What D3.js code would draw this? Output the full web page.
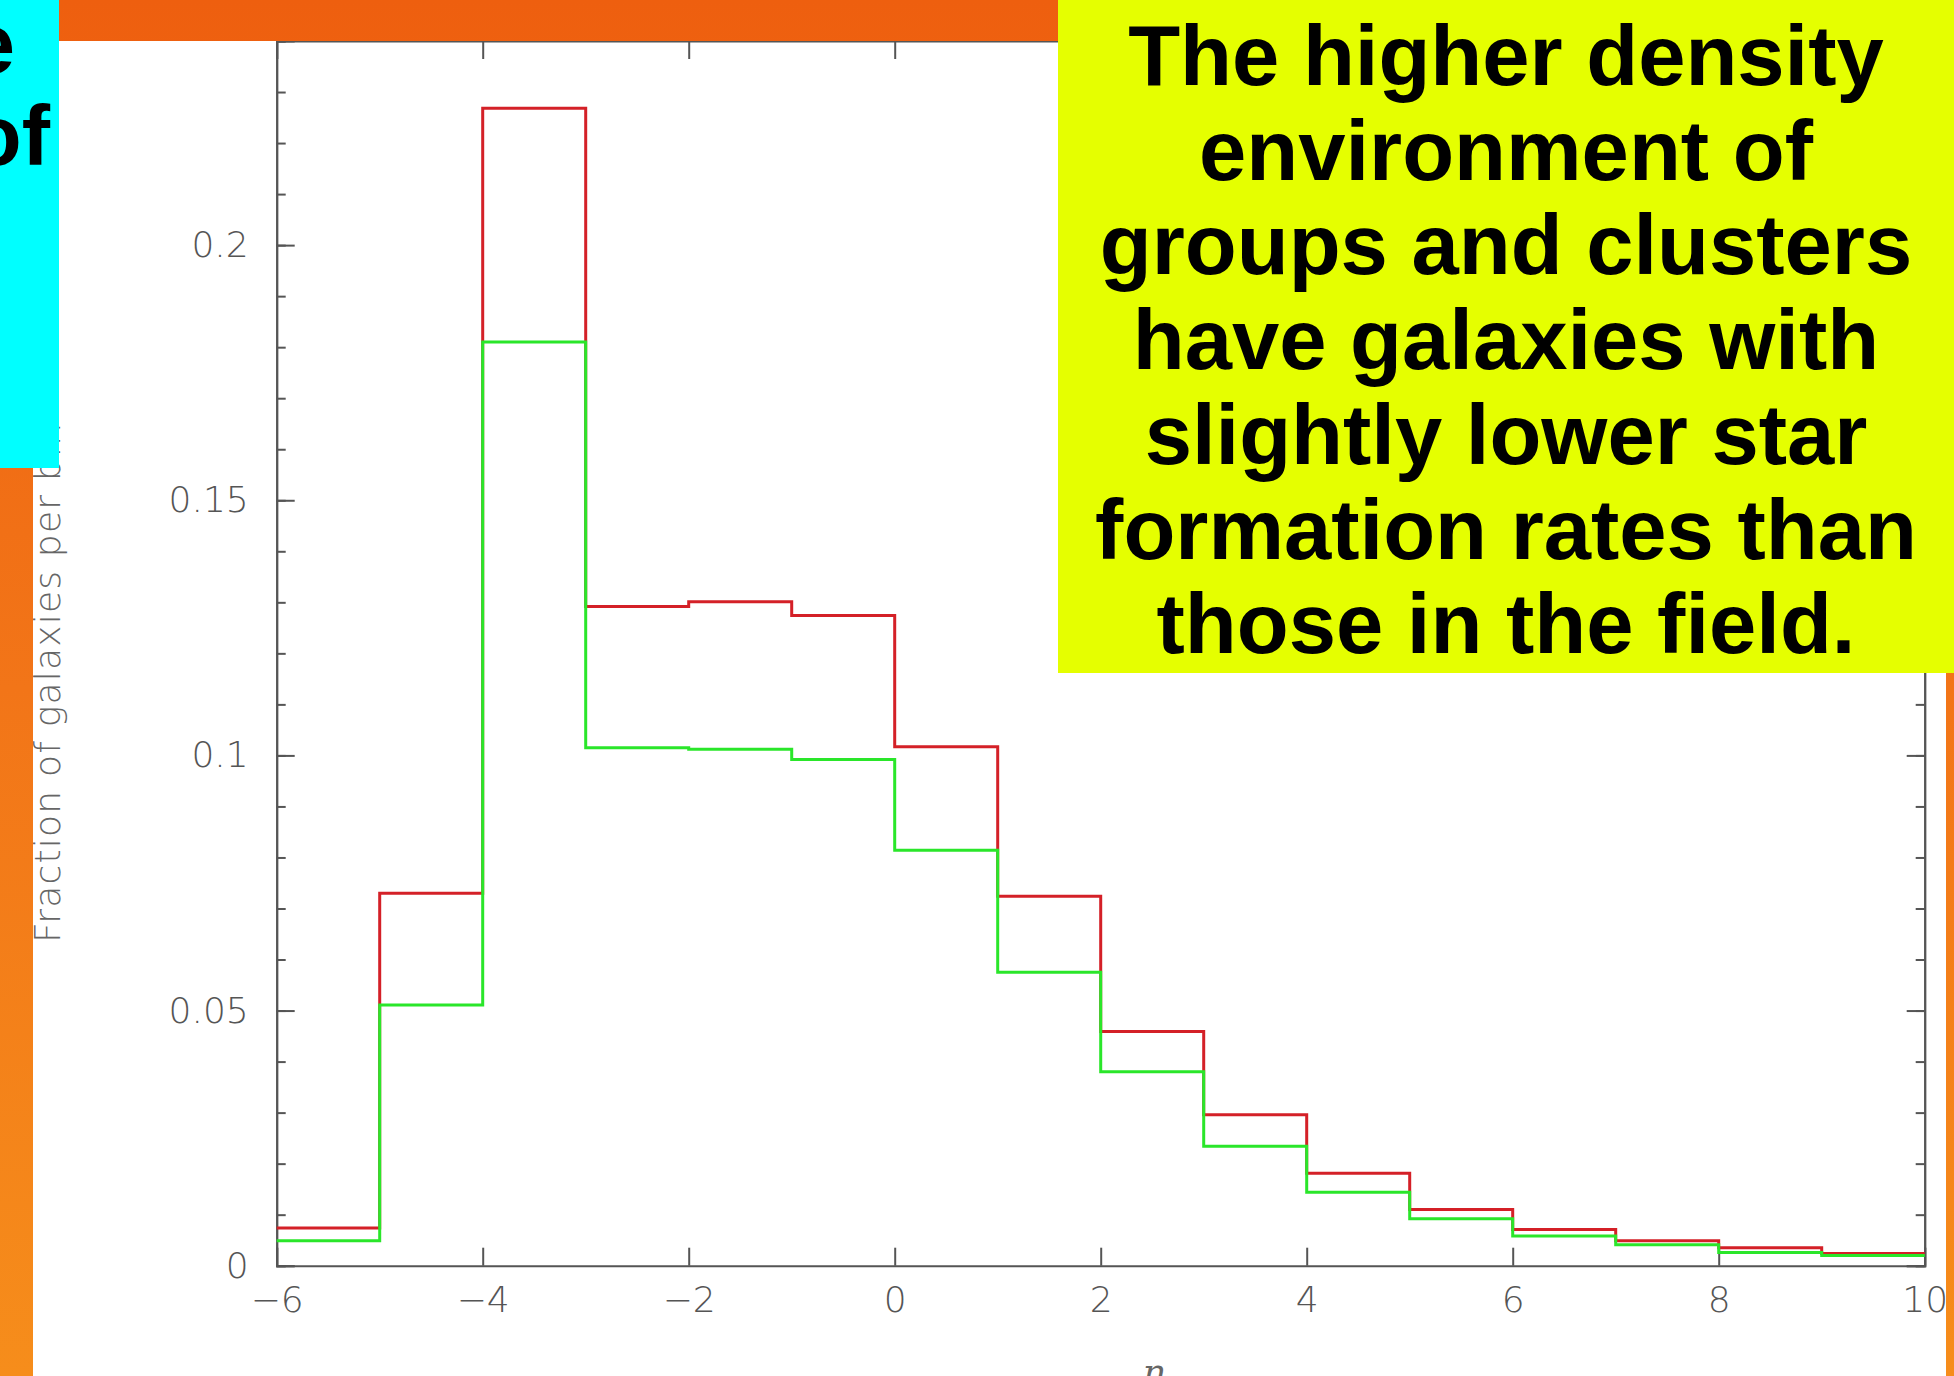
<!DOCTYPE html>
<html>
<head>
<meta charset="utf-8">
<script src="https://cdn.jsdelivr.net/npm/d3@7"></script>
<style>
  html, body { margin: 0; padding: 0; background: #ffffff; }
  svg { display: block; }
</style>
</head>
<body>
<svg id="slide" width="1954" height="1376"></svg>
<script>
// Histogram bins of eta (lower edges, plus the final upper edge)
const binEdges = [-6, -5, -4, -3, -2, -1, 0, 1, 2, 3, 4, 5, 6, 7, 8, 9, 10];

// Fraction of galaxies per bin: field sample (red) and group/cluster sample (green)
const fieldFraction = [0.0074, 0.0730, 0.2268, 0.1292, 0.1301, 0.1274, 0.1017, 0.0724,
                       0.0459, 0.0296, 0.0181, 0.0110, 0.0071, 0.0049, 0.0035, 0.0024];
const groupFraction = [0.0049, 0.0511, 0.1810, 0.1015, 0.1012, 0.0992, 0.0814, 0.0575,
                       0.0380, 0.0234, 0.0144, 0.0092, 0.0058, 0.0041, 0.0026, 0.0020];

// Axis ticks
const xTickValues = [-6, -4, -2, 0, 2, 4, 6, 8, 10];
const xTickLabels = ["\u22126", "\u22124", "\u22122", "0", "2", "4", "6", "8", "10"];
const yTickValues = [0, 0.05, 0.1, 0.15, 0.2];
const yTickLabels = ["0", "0.05", "0.1", "0.15", "0.2"];
const yMinorTicks = [0, 0.01, 0.02, 0.03, 0.04, 0.05, 0.06, 0.07, 0.08, 0.09, 0.10, 0.11, 0.12,
                     0.13, 0.14, 0.15, 0.16, 0.17, 0.18, 0.19, 0.20, 0.21, 0.22, 0.23, 0.24];

// Slide text
const noteLines = ["The higher density", "environment of", "groups and clusters",
                   "have galaxies with", "slightly lower star", "formation rates than",
                   "those in the field."];
const sideLines = ["e", "of"];

const W = 1954, H = 1376;
const plot = { left: 276.7, right: 1924.7, top: 41, bottom: 1265.7 };

const svg = d3.select("#slide");

const defs = svg.append("defs");
const grad = defs.append("linearGradient")
  .attr("id", "orangeFade")
  .attr("gradientUnits", "userSpaceOnUse")
  .attr("x1", 0).attr("y1", 0).attr("x2", 0).attr("y2", H);
grad.append("stop").attr("offset", 0).attr("stop-color", "#ee5f0f");
grad.append("stop").attr("offset", 0.5).attr("stop-color", "#f27518");
grad.append("stop").attr("offset", 1).attr("stop-color", "#f68d1b");

defs.append("clipPath").attr("id", "sideClip")
  .append("rect").attr("x", 0).attr("y", 0).attr("width", 59).attr("height", 468);

svg.append("rect").attr("width", W).attr("height", H).attr("fill", "#ffffff");

// ---- Chart ----
const x = d3.scaleLinear().domain([-6, 10]).range([plot.left, plot.right]);
const y = d3.scaleLinear().domain([0, 0.24]).range([plot.bottom, plot.top]);

const chart = svg.append("g");
const axisColor = "#555555";
const labelFont = "'DejaVu Sans', sans-serif";

function styleAxis(g) {
  g.select(".domain").attr("stroke", axisColor).attr("stroke-width", 2);
  g.selectAll(".tick line").attr("stroke", axisColor).attr("stroke-width", 2);
  g.selectAll(".tick text")
    .attr("fill", "#555555")
    .attr("font-family", labelFont)
    .attr("font-weight", 200)
    .attr("font-size", 36);
}

// Minor y ticks (left and right)
chart.append("g")
  .attr("transform", `translate(${plot.left},0)`)
  .call(d3.axisLeft(y).tickValues(yMinorTicks).tickSize(-9).tickFormat(""))
  .call(styleAxis);
chart.append("g")
  .attr("transform", `translate(${plot.right},0)`)
  .call(d3.axisRight(y).tickValues(yMinorTicks).tickSize(-9).tickFormat(""))
  .call(styleAxis);

// Major y ticks with labels
chart.append("g")
  .attr("transform", `translate(${plot.left},0)`)
  .call(d3.axisLeft(y).tickValues(yTickValues).tickSize(-18).tickPadding(28)
    .tickFormat((d, i) => yTickLabels[i]))
  .call(styleAxis);
chart.append("g")
  .attr("transform", `translate(${plot.right},0)`)
  .call(d3.axisRight(y).tickValues(yTickValues).tickSize(-18).tickFormat(""))
  .call(styleAxis);

// x axes
chart.append("g")
  .attr("transform", `translate(0,${plot.bottom})`)
  .call(d3.axisBottom(x).tickValues(xTickValues).tickSize(-18).tickPadding(21)
    .tickFormat((d, i) => xTickLabels[i]))
  .call(styleAxis);
chart.append("g")
  .attr("transform", `translate(0,${plot.top})`)
  .call(d3.axisTop(x).tickValues(xTickValues).tickSize(-18).tickFormat(""))
  .call(styleAxis);

// Axis titles
chart.append("text")
  .attr("transform", `translate(60,943) rotate(-90)`)
  .attr("text-anchor", "start")
  .attr("fill", "#666666")
  .attr("font-family", labelFont)
  .attr("font-weight", 200)
  .attr("font-size", 36)
  .attr("letter-spacing", 1.2)
  .text("Fraction of galaxies per bin");

chart.append("text")
  .attr("x", 1153).attr("y", 1384)
  .attr("text-anchor", "middle")
  .attr("fill", "#666666")
  .attr("font-family", "'DejaVu Serif', serif")
  .attr("font-style", "italic")
  .attr("font-weight", 200)
  .attr("font-size", 36)
  .text("\u03b7");

// Step histograms
function stepPoints(values) {
  const pts = values.map((v, i) => [binEdges[i], v]);
  pts.push([binEdges[binEdges.length - 1], values[values.length - 1]]);
  return pts;
}
const stepLine = d3.line()
  .x(d => x(d[0]))
  .y(d => y(d[1]))
  .curve(d3.curveStepAfter);

chart.append("path")
  .datum(stepPoints(fieldFraction))
  .attr("d", stepLine)
  .attr("fill", "none")
  .attr("stroke", "#d42027")
  .attr("stroke-width", 3);

chart.append("path")
  .datum(stepPoints(groupFraction))
  .attr("d", stepLine)
  .attr("fill", "none")
  .attr("stroke", "#2ae62a")
  .attr("stroke-width", 3);

// ---- Slide decoration ----
const deco = svg.append("g");
deco.append("rect").attr("x", 0).attr("y", 0).attr("width", W).attr("height", 41)
  .attr("fill", "url(#orangeFade)");
deco.append("rect").attr("x", 0).attr("y", 0).attr("width", 33).attr("height", H)
  .attr("fill", "url(#orangeFade)");
deco.append("rect").attr("x", 1946).attr("y", 0).attr("width", W - 1946).attr("height", H)
  .attr("fill", "url(#orangeFade)");

// Cyan side panel
deco.append("rect").attr("x", 0).attr("y", 0).attr("width", 59).attr("height", 468)
  .attr("fill", "#00ffff");
const side = deco.append("g").attr("clip-path", "url(#sideClip)");
side.selectAll("text")
  .data(sideLines)
  .join("text")
  .attr("x", (d, i) => [15, 50][i])
  .attr("y", (d, i) => 73 + i * 92)
  .attr("text-anchor", "end")
  .attr("font-family", "'Liberation Sans', Arial, sans-serif")
  .attr("font-weight", 700)
  .attr("font-size", 85)
  .attr("fill", "#000000")
  .text(d => d);

// Yellow note panel
deco.append("rect").attr("x", 1058).attr("y", 0).attr("width", W - 1058).attr("height", 673)
  .attr("fill", "#e5ff00");
deco.selectAll("text.note")
  .data(noteLines)
  .join("text")
  .attr("class", "note")
  .attr("x", 1506)
  .attr("y", (d, i) => 85 + i * 94.7)
  .attr("text-anchor", "middle")
  .attr("font-family", "'Liberation Sans', Arial, sans-serif")
  .attr("font-weight", 700)
  .attr("font-size", 85)
  .attr("fill", "#000000")
  .text(d => d);
</script>
</body>
</html>
